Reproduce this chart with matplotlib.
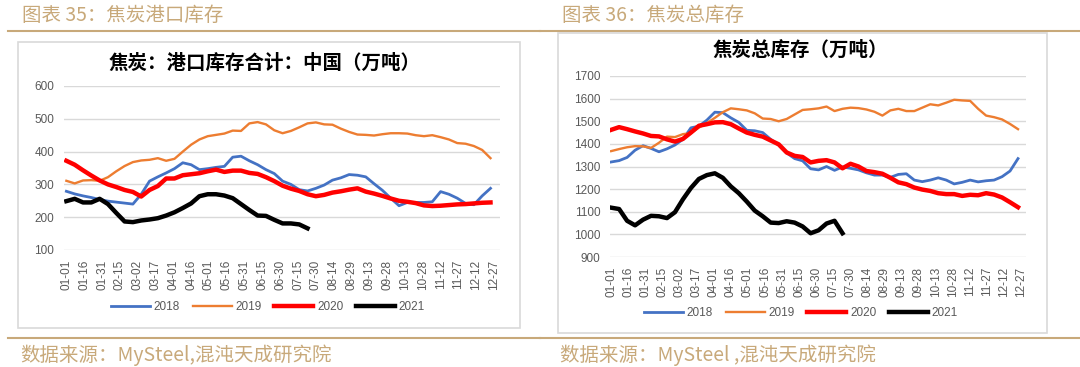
import numpy as np
import matplotlib.pyplot as plt
from matplotlib.patches import Rectangle
from matplotlib.lines import Line2D

plt.rcParams['font.family'] = ['Noto Sans CJK SC', 'DejaVu Sans']

# x 轴标签（每 15 天一个）
tick_labels = ['01-01', '01-16', '01-31', '02-15', '03-02', '03-17', '04-01', '04-16',
               '05-01', '05-16', '05-31', '06-15', '06-30', '07-15', '07-30', '08-14',
               '08-29', '09-13', '09-28', '10-13', '10-28', '11-12', '11-27', '12-12', '12-27']
years = ['2018', '2019', '2020', '2021']

# 焦炭港口库存（万吨），周度
port_2018 = [279, 271, 265, 260, 254, 249, 246, 243, 240, 270, 310, 323, 335, 348, 366, 360,
             345, 348, 352, 355, 383, 386, 372, 360, 345, 333, 310, 300, 284, 280, 288, 298,
             313, 320, 330, 328, 323, 302, 282, 258, 235, 245, 245, 245, 247, 278, 270, 258,
             242, 238, 265, 288]
port_2019 = [311, 303, 312, 313, 311, 322, 340, 356, 368, 373, 375, 380, 372, 378, 400, 421,
             437, 447, 451, 455, 464, 463, 486, 490, 483, 465, 456, 463, 474, 486, 489, 483,
             482, 470, 460, 452, 451, 449, 453, 456, 456, 455, 450, 447, 450, 444, 437, 426,
             424, 417, 405, 380]
port_2020 = [372, 360, 343, 327, 312, 300, 292, 283, 277, 263, 283, 295, 318, 318, 328, 331,
             334, 340, 345, 338, 342, 342, 335, 332, 322, 310, 296, 287, 280, 270, 264, 268,
             275, 279, 284, 288, 278, 272, 265, 257, 250, 247, 243, 236, 234, 235, 237, 239,
             240, 242, 244, 245]
port_2021 = [249, 256, 245, 245, 256, 240, 213, 187, 185, 190, 193, 197, 205, 215, 228, 242,
             264, 270, 270, 266, 258, 240, 222, 205, 204, 192, 181, 181, 178, 166]

# 焦炭总库存（万吨），周度
total_2018 = [1320, 1326, 1340, 1372, 1392, 1380, 1365, 1378, 1395, 1420, 1471, 1478, 1505,
              1540, 1538, 1515, 1495, 1460, 1458, 1450, 1420, 1395, 1360, 1335, 1325, 1290,
              1285, 1300, 1283, 1298, 1292, 1285, 1272, 1262, 1262, 1252, 1265, 1268, 1240,
              1233, 1240, 1250, 1240, 1223, 1230, 1240, 1232, 1237, 1240, 1255, 1280, 1335]
total_2019 = [1368, 1377, 1385, 1390, 1389, 1382, 1405, 1432, 1430, 1443, 1447, 1472, 1492,
              1515, 1540, 1557, 1553, 1548, 1535, 1512, 1510, 1500, 1510, 1530, 1550, 1553,
              1557, 1565, 1545, 1555, 1560, 1558, 1552, 1542, 1525, 1548, 1555, 1545, 1545,
              1560, 1575, 1570, 1582, 1595, 1592, 1590, 1555, 1525, 1518, 1508, 1488, 1465]
total_2020 = [1462, 1474, 1465, 1455, 1446, 1435, 1433, 1420, 1410, 1422, 1450, 1480, 1487,
              1495, 1496, 1487, 1468, 1450, 1440, 1432, 1415, 1398, 1362, 1347, 1342, 1318,
              1325, 1328, 1318, 1292, 1312, 1300, 1280, 1275, 1268, 1250, 1230, 1222, 1207,
              1198, 1192, 1182, 1178, 1178, 1170, 1175, 1173, 1182, 1176, 1163, 1142, 1120]
total_2021 = [1118, 1112, 1060, 1040, 1065, 1082, 1080, 1072, 1098, 1155, 1205, 1245, 1262,
              1270, 1250, 1212, 1182, 1145, 1105, 1080, 1052, 1050, 1058, 1052, 1035, 1005,
              1018, 1048, 1060, 1005]

colors = ['#4472C4', '#ED7D31', '#FF0000', '#000000']
widths = [2.0, 1.7, 3.2, 3.2]
gold = '#C8A97A'
gray = '#595959'

W, H = 1080, 367
fig = plt.figure(figsize=(W / 100, H / 100), dpi=100)


def fx(x):
    return x / W


def fy(y):
    return 1 - y / H


def hline(x0, x1, y):
    fig.add_artist(Line2D([fx(x0), fx(x1)], [fy(y), fy(y)], color=gold, lw=1.5,
                          transform=fig.transFigure))


def frame(x0, y0, x1, y1):
    fig.add_artist(Rectangle((fx(x0), fy(y1)), fx(x1) - fx(x0), fy(y0) - fy(y1),
                             transform=fig.transFigure, fill=False, ec='#D9D9D9', lw=1.2))


# 标题栏和来源
fig.text(fx(22), fy(15), '图表 35：焦炭港口库存', color=gold, fontsize=14, va='center')
fig.text(fx(562), fy(15), '图表 36：焦炭总库存', color=gold, fontsize=14, va='center')
hline(8, 540, 31)
hline(540, 1080, 31)
hline(8, 540, 338)
hline(540, 1080, 338)
fig.text(fx(20), fy(355), '数据来源：MySteel,混沌天成研究院', color=gold, fontsize=14, va='center')
fig.text(fx(560), fy(355), '数据来源：MySteel ,混沌天成研究院', color=gold, fontsize=14, va='center')

frame(18, 42, 520, 328)
frame(558, 33, 1047, 333)


def draw(ax, series, ylim, step, title, tx, ty, legend_y, legend_x):
    for name, vals, c, lw in zip(years, series, colors, widths):
        days = np.arange(len(vals)) * 7
        ax.plot(days, vals, color=c, lw=lw, label=name, solid_joinstyle='round')
    ax.set_ylim(*ylim)
    ax.set_yticks(np.arange(ylim[0], ylim[1] + 1, step))
    ax.set_xticks(np.arange(len(tick_labels)) * 15)
    ax.set_xticklabels(tick_labels, rotation=90)
    ax.grid(axis='y', color='#D9D9D9', lw=1)
    ax.set_axisbelow(True)
    for s in ax.spines.values():
        s.set_visible(False)
    ax.tick_params(length=0, labelsize=8.5, labelcolor=gray, pad=7)
    for lab in ax.get_xticklabels() + ax.get_yticklabels():
        lab.set_family('Liberation Sans')
    fig.text(fx(tx), fy(ty), title, fontsize=14, fontweight='bold', ha='center', va='center')
    leg = ax.legend(loc='center', bbox_to_anchor=(fx(legend_x), fy(legend_y)),
                    bbox_transform=fig.transFigure, ncol=4, frameon=False, fontsize=8.5,
                    handlelength=3.3, handletextpad=0.3, columnspacing=1.1)
    for t in leg.get_texts():
        t.set_color(gray)
        t.set_family('Liberation Sans')


ax1 = fig.add_axes([fx(64), fy(250), fx(500) - fx(64), fy(86) - fy(250)])
ax1.set_xlim(-2, 365)
draw(ax1, [port_2018, port_2019, port_2020, port_2021], (100, 600), 100,
     '焦炭：港口库存合计：中国（万吨）', 265, 63, 307, 268)

ax2 = fig.add_axes([fx(610), fy(257), fx(1026) - fx(610), fy(76) - fy(257)])
ax2.set_xlim(-1, 364)
draw(ax2, [total_2018, total_2019, total_2020, total_2021], (900, 1700), 100,
     '焦炭总库存（万吨）', 800, 50, 313, 801)

fig.savefig('out.png', dpi=100)
